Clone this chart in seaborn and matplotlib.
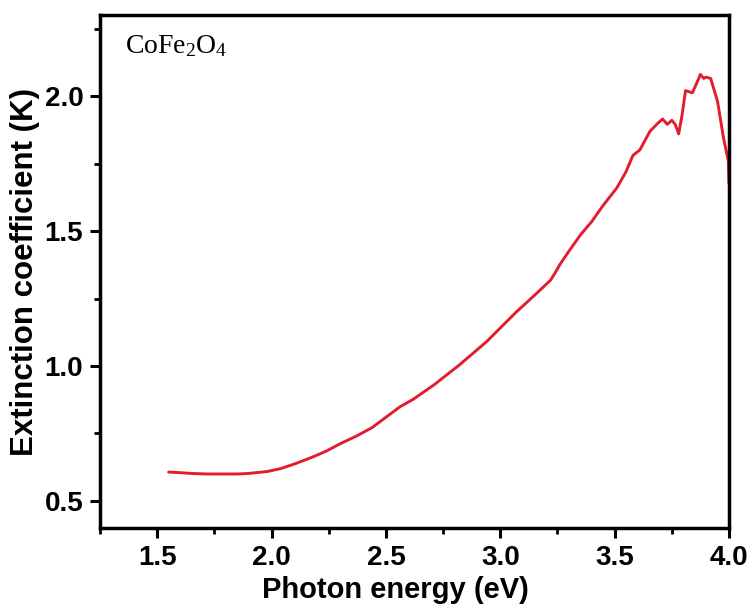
import matplotlib
matplotlib.use("Agg")
import matplotlib.pyplot as plt
from matplotlib.ticker import MultipleLocator
import seaborn as sns
import pandas as pd

# Extinction coefficient of CoFe2O4
energy = [1.55, 1.60, 1.65, 1.72, 1.78, 1.85, 1.90, 1.98, 2.04, 2.10, 2.18,
          2.24, 2.30, 2.37, 2.44, 2.50, 2.56, 2.62, 2.71, 2.82, 2.94, 3.07,
          3.15, 3.22, 3.24, 3.26, 3.30, 3.35, 3.40, 3.45, 3.51, 3.55, 3.58,
          3.61, 3.655, 3.69, 3.71, 3.73, 3.75, 3.765, 3.78, 3.795, 3.81, 3.84,
          3.86, 3.875, 3.89, 3.90, 3.92, 3.95, 3.976, 3.997, 4.0]
k_values = [0.607, 0.605, 0.602, 0.600, 0.600, 0.600, 0.602, 0.609, 0.620,
            0.637, 0.663, 0.685, 0.712, 0.740, 0.772, 0.810, 0.848, 0.877,
            0.930, 1.003, 1.090, 1.200, 1.262, 1.318, 1.345, 1.375, 1.425,
            1.485, 1.535, 1.595, 1.660, 1.72, 1.78, 1.80, 1.87, 1.90, 1.915,
            1.895, 1.91, 1.895, 1.86, 1.93, 2.02, 2.012, 2.05, 2.08, 2.065,
            2.07, 2.065, 1.98, 1.845, 1.76, 1.675]

df = pd.DataFrame({"energy": energy, "k": k_values})

sns.set_style("ticks")
plt.rcParams["font.family"] = ["Liberation Sans", "DejaVu Sans"]
plt.rcParams["font.weight"] = "bold"
plt.rcParams["mathtext.fontset"] = "custom"
plt.rcParams["mathtext.rm"] = "Liberation Serif:normal"
plt.rcParams["text.color"] = "black"
plt.rcParams["axes.labelcolor"] = "black"
plt.rcParams["xtick.color"] = "black"
plt.rcParams["ytick.color"] = "black"

fig = plt.figure(figsize=(7.53, 6.08), dpi=100)
ax = fig.add_axes([0.1328, 0.1316, 0.8353, 0.8437])

sns.lineplot(data=df, x="energy", y="k", ax=ax, color="#e11d2e",
             linewidth=2.1, estimator=None, sort=False)

ax.set_xlim(1.25, 4.0)
ax.set_ylim(0.4, 2.3)
ax.xaxis.set_minor_locator(MultipleLocator(0.25))
ax.yaxis.set_minor_locator(MultipleLocator(0.25))
ax.set_xticks([1.5, 2.0, 2.5, 3.0, 3.5, 4.0])
ax.set_xticklabels(["1.5", "2.0", "2.5", "3.0", "3.5", "4.0"])
ax.set_yticks([0.5, 1.0, 1.5, 2.0])
ax.set_yticklabels(["0.5", "1.0", "1.5", "2.0"])

for s in ax.spines.values():
    s.set_visible(True)
    s.set_linewidth(2.5)
    s.set_color("black")

ax.tick_params(which="major", direction="out", length=7, width=2.2,
               labelsize=20, pad=5)
ax.tick_params(which="minor", direction="out", length=4.5, width=2.0)
ax.tick_params(axis="x", which="both", top=False)
ax.tick_params(axis="y", which="both", right=False)

ax.set_xlabel("Photon energy (eV)", fontsize=21, fontweight="bold", labelpad=4)
ax.xaxis.label.set_x(0.469)
ax.set_ylabel("Extinction coefficient (K)", fontsize=22.5, fontweight="bold", labelpad=3)

ax.text(0.04, 0.94, r"$\mathrm{CoFe_2O_4}$", transform=ax.transAxes,
        fontsize=20, va="center", ha="left", color="black")

fig.savefig("out.png", dpi=100)
